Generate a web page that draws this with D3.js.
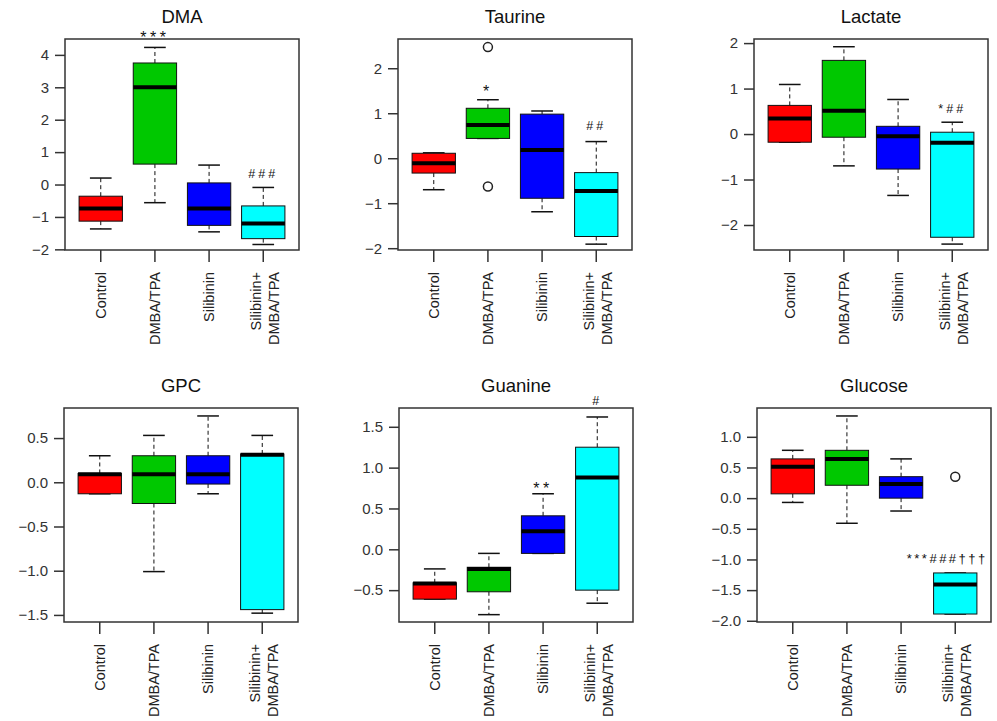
<!DOCTYPE html>
<html>
<head>
<meta charset="utf-8">
<script src="https://cdn.jsdelivr.net/npm/d3@7"></script>
<style>
  body { margin: 0; background: #fff; }
  svg { font-family: "Liberation Sans", Arial, sans-serif; }
</style>
</head>
<body>
<svg id="chart" width="997" height="721"></svg>
<script>
// groups (x categories), label lines for each
var groups = [["Control"], ["DMBA/TPA"], ["Silibinin"], ["Silibinin+", "DMBA/TPA"]];
var metabolites = ["DMA", "Taurine", "Lactate", "GPC", "Guanine", "Glucose"];
var fills = ["#ff0000", "#00c800", "#0000ff", "#00ffff"];

// box stats per metabolite, one value per group
var lowWhisker = [
  [-1.37, -0.56, -1.46, -1.85],
  [-0.70, 0.44, -1.19, -1.91],
  [-0.18, -0.70, -1.35, -2.42],
  [-0.13, -1.01, -0.13, -1.48],
  [-0.61, -0.80, -0.05, -0.66],
  [-0.07, -0.41, -0.21, -1.89]
];
var q1 = [
  [-1.13, 0.63, -1.26, -1.67],
  [-0.33, 0.44, -0.89, -1.74],
  [-0.18, -0.07, -0.77, -2.27],
  [-0.13, -0.24, -0.02, -1.44],
  [-0.61, -0.52, -0.05, -0.50],
  [0.07, 0.21, 0.00, -1.89]
];
var medians = [
  [-0.74, 3.00, -0.74, -1.20],
  [-0.11, 0.74, 0.18, -0.73],
  [0.34, 0.51, -0.05, -0.19],
  [0.09, 0.09, 0.09, 0.31],
  [-0.42, -0.24, 0.22, 0.88],
  [0.51, 0.64, 0.23, -1.41]
];
var q3 = [
  [-0.36, 3.75, 0.05, -0.66],
  [0.11, 1.11, 0.98, -0.32],
  [0.63, 1.62, 0.17, 0.04],
  [0.10, 0.30, 0.30, 0.32],
  [-0.41, -0.22, 0.41, 1.25],
  [0.64, 0.78, 0.35, -1.22]
];
var highWhisker = [
  [0.20, 4.23, 0.60, -0.09],
  [0.12, 1.30, 1.05, 0.37],
  [1.09, 1.92, 0.76, 0.26],
  [0.30, 0.53, 0.75, 0.53],
  [-0.24, -0.05, 0.68, 1.62],
  [0.78, 1.34, 0.64, -1.22]
];
// outliers: [group index, value]
var outliers = [
  [],
  [[1, 2.47], [1, -0.63]],
  [],
  [],
  [],
  [[3, 0.35]]
];
// significance marks: [group index, value at text baseline, text]
var marks = [
  [[1, 4.36, "***"], [3, 0.19, "###"]],
  [[1, 1.37, "*"], [3, 0.63, "##"]],
  [[3, 0.46, "*##"]],
  [],
  [[2, 0.68, "**"], [3, 1.77, "#"]],
  [[3, -1.05, "***###\u2020\u2020\u2020"]]
];
var yDomains = [[-2.02, 4.49], [-2.04, 2.65], [-2.55, 2.09], [-1.58, 0.84], [-0.89, 1.73], [-2.02, 1.47]];
var yTicks = [
  [-2, -1, 0, 1, 2, 3, 4],
  [-2, -1, 0, 1, 2],
  [-2, -1, 0, 1, 2],
  [-1.5, -1.0, -0.5, 0.0, 0.5],
  [-0.5, 0.0, 0.5, 1.0, 1.5],
  [-2.0, -1.5, -1.0, -0.5, 0.0, 0.5, 1.0]
];
var tickDecimals = [0, 0, 0, 1, 1, 1];

// panel frames
var frameLeft = [65, 398, 754, 64, 399, 757];
var frameTop = [39, 39, 39, 408, 408, 408];
var frameBottom = [250, 250, 250, 622, 622, 622];
var frameW = 234;

var svg = d3.select("#chart");

metabolites.forEach(function(name, p) {
  var x = d3.scaleLinear().domain([0.34, 4.66]).range([frameLeft[p], frameLeft[p] + frameW]);
  var y = d3.scaleLinear().domain(yDomains[p]).range([frameBottom[p], frameTop[p]]);
  var g = svg.append("g");
  var halfBox = (x(1.4) - x(0.6)) / 2;
  var halfCap = halfBox / 2;

  g.append("text")
    .attr("x", frameLeft[p] + frameW / 2)
    .attr("y", frameTop[p] - 16)
    .attr("text-anchor", "middle")
    .attr("font-size", 18.5)
    .attr("fill", "#111")
    .text(name);

  groups.forEach(function(lbl, i) {
    var cx = x(i + 1);
    // whiskers
    g.append("line").attr("x1", cx).attr("x2", cx)
      .attr("y1", y(q3[p][i])).attr("y2", y(highWhisker[p][i]))
      .attr("stroke", "#111").attr("stroke-dasharray", "4,3");
    g.append("line").attr("x1", cx).attr("x2", cx)
      .attr("y1", y(q1[p][i])).attr("y2", y(lowWhisker[p][i]))
      .attr("stroke", "#111").attr("stroke-dasharray", "4,3");
    [highWhisker[p][i], lowWhisker[p][i]].forEach(function(v) {
      g.append("line").attr("x1", cx - halfCap).attr("x2", cx + halfCap)
        .attr("y1", y(v)).attr("y2", y(v))
        .attr("stroke", "#111").attr("stroke-width", 1.5);
    });
    // box
    g.append("rect")
      .attr("x", cx - halfBox).attr("width", halfBox * 2)
      .attr("y", y(q3[p][i])).attr("height", y(q1[p][i]) - y(q3[p][i]))
      .attr("fill", fills[i]).attr("stroke", "#111").attr("stroke-width", 1);
    g.append("line").attr("x1", cx - halfBox).attr("x2", cx + halfBox)
      .attr("y1", y(medians[p][i])).attr("y2", y(medians[p][i]))
      .attr("stroke", "#000").attr("stroke-width", 4);
  });

  outliers[p].forEach(function(o) {
    g.append("circle").attr("cx", x(o[0] + 1)).attr("cy", y(o[1])).attr("r", 4.5)
      .attr("fill", "none").attr("stroke", "#222").attr("stroke-width", 1.5);
  });

  marks[p].forEach(function(m) {
    var long = m[2].length > 6;
    var star = m[2].indexOf("#") < 0;
    g.append("text")
      .attr("x", x(m[0] + 1) - (long ? 8 : 0))
      .attr("y", y(m[1]))
      .attr("text-anchor", "middle")
      .attr("font-size", long ? 13 : (star ? 16 : 12.5))
      .attr("letter-spacing", long ? 2.5 : (star ? 3.5 : 3))
      .attr("fill", "#111")
      .text(m[2]);
  });

  // frame
  g.append("rect")
    .attr("x", frameLeft[p]).attr("y", frameTop[p])
    .attr("width", frameW).attr("height", frameBottom[p] - frameTop[p])
    .attr("fill", "none").attr("stroke", "#333").attr("stroke-width", 1.5);

  // y axis
  var yAxis = d3.axisLeft(y).tickValues(yTicks[p]).tickSize(10).tickPadding(6)
    .tickFormat(d3.format("." + tickDecimals[p] + "f"));
  var ya = g.append("g").attr("transform", "translate(" + frameLeft[p] + ",0)").call(yAxis);
  ya.select(".domain").remove();
  ya.selectAll("line").attr("stroke", "#333").attr("stroke-width", 1.5);
  ya.selectAll("text").attr("font-size", 15).attr("fill", "#333").attr("font-family", null);

  // x axis ticks and rotated labels
  groups.forEach(function(lbl, i) {
    var cx = x(i + 1);
    g.append("line").attr("x1", cx).attr("x2", cx)
      .attr("y1", frameBottom[p]).attr("y2", frameBottom[p] + 12)
      .attr("stroke", "#333").attr("stroke-width", 1.5);
    lbl.forEach(function(line, k) {
      var off = (k - (lbl.length - 1) / 2) * 18 + (lbl.length > 1 ? 1.5 : 0);
      g.append("text")
        .attr("transform", "translate(" + (cx + off + 5) + "," + (frameBottom[p] + 22) + ") rotate(-90)")
        .attr("text-anchor", "end")
        .attr("font-size", 14.5)
        .attr("fill", "#222")
        .text(line);
    });
  });
});
</script>
</body>
</html>
